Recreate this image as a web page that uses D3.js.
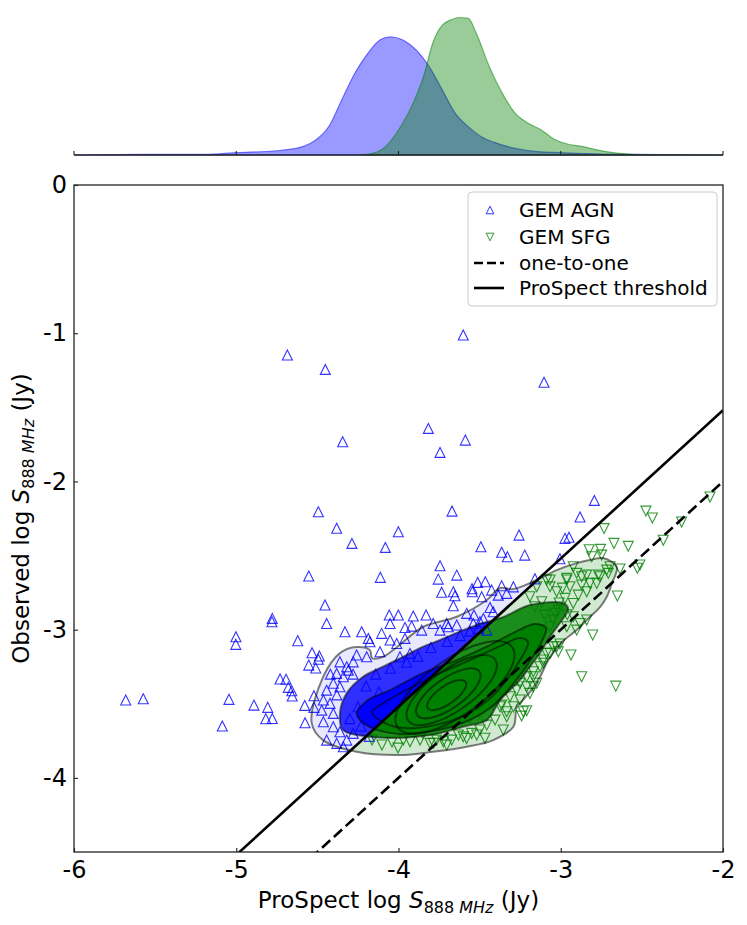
<!DOCTYPE html>
<html>
<head>
<meta charset="utf-8">
<script src="https://cdn.jsdelivr.net/npm/d3@7"></script>
<style>
  body { margin: 0; background: #fff; }
  svg { display: block; }
  text { font-family: "DejaVu Sans", sans-serif; fill: #000; }
</style>
</head>
<body>
<svg id="chart" width="747" height="925"></svg>
<script>
// ---- data ----
const xTicks = [-6, -5, -4, -3, -2];
const yTicks = [0, -1, -2, -3, -4];
const thresholdOffset = 0.48; // ProSpect threshold: observed = prospect + 0.48

// marginal densities (normalised so the SFG peak = 1)
const agnKdeX = [-6, -5.55, -5.2, -5.0, -4.75, -4.59, -4.51, -4.43, -4.35, -4.27, -4.19, -4.11, -4.05, -3.97, -3.89, -3.81, -3.73, -3.65, -3.57, -3.49, -3.41, -3.28, -3.14, -3.0, -2.74, -2.0];
const agnKde = [0, 0.005, 0.005, 0.017, 0.031, 0.061, 0.109, 0.206, 0.400, 0.593, 0.738, 0.840, 0.860, 0.835, 0.763, 0.642, 0.472, 0.303, 0.206, 0.133, 0.092, 0.048, 0.024, 0.017, 0.007, 0];
const sfgKdeX = [-4.24, -4.16, -4.08, -4.0, -3.92, -3.84, -3.79, -3.73, -3.68, -3.63, -3.57, -3.52, -3.44, -3.36, -3.28, -3.2, -3.12, -3.04, -2.96, -2.88, -2.77, -2.64, -2.47, -2.0];
const sfgKde = [0, 0.012, 0.061, 0.182, 0.351, 0.593, 0.811, 0.944, 0.981, 1.0, 0.993, 0.884, 0.642, 0.448, 0.303, 0.230, 0.182, 0.114, 0.080, 0.065, 0.036, 0.012, 0.002, 0];

// GEM AGN (prospect, observed)
const agnPoints = [
  [-5.681,-3.475],[-5.573,-3.466],[-4.685,-1.147],[-4.451,-1.244],[-3.601,-1.012],[-3.103,-1.331],
  [-4.344,-1.732],[-3.816,-1.642],[-3.588,-1.721],[-3.744,-1.804],[-4.494,-2.204],[-4.381,-2.316],
  [-4.001,-2.339],[-4.287,-2.418],[-4.081,-2.445],[-4.553,-2.638],[-4.112,-2.647],[-4.453,-2.834],
  [-4.057,-2.901],[-4.001,-2.901],[-4.778,-2.924],[-2.793,-2.128],[-3.670,-2.200],[-2.881,-2.240],
  [-3.257,-2.362],[-2.974,-2.384],[-2.949,-2.377],[-3.492,-2.441],[-3.364,-2.478],[-3.329,-2.508],
  [-3.222,-2.497],[-3.005,-2.522],[-3.744,-2.569],[-3.641,-2.632],[-3.755,-2.659],[-3.159,-2.657],
  [-3.512,-2.681],[-3.465,-2.677],[-3.734,-2.748],[-3.547,-2.724],[-3.662,-2.744],[-3.652,-2.771],
  [-3.292,-2.711],[-3.364,-2.704],[-3.333,-2.755],[-3.662,-2.839],[-3.436,-2.850],[-3.909,-2.908],
  [-3.830,-2.901],[-3.580,-2.890],[-3.535,-2.901],[-5.045,-3.470],[-5.086,-3.650],[-4.891,-3.509],
  [-4.806,-3.524],[-4.818,-3.601],[-4.778,-3.599],[-5.002,-3.048],[-5.003,-3.099],[-4.780,-2.947],
  [-4.621,-3.075],[-4.533,-3.156],[-4.488,-3.178],[-4.494,-3.200],[-4.553,-3.239],[-4.510,-3.259],
  [-4.730,-3.333],[-4.693,-3.335],[-4.679,-3.389],[-4.658,-3.412],[-4.655,-3.448],[-4.578,-3.511],
  [-4.521,-3.524],[-4.521,-3.446],[-4.576,-3.628],[-4.443,-2.958],[-4.330,-3.014],[-4.227,-3.014],
  [-4.104,-3.025],[-4.186,-3.059],[-4.176,-3.082],[-3.919,-2.976],[-3.857,-3.003],[-3.786,-2.958],
  [-3.703,-2.958],[-3.641,-2.969],[-4.052,-3.070],[-4.011,-3.093],[-3.960,-3.059],[-4.114,-3.149],
  [-3.991,-3.183],[-3.929,-3.160],[-4.258,-3.171],[-4.196,-3.183],[-4.361,-3.217],[-4.319,-3.250],
  [-4.279,-3.217],[-4.381,-3.295],[-4.340,-3.318],[-4.309,-3.273],[-4.402,-3.362],[-4.361,-3.385],
  [-4.443,-3.408],[-4.463,-3.475],[-4.422,-3.497],[-4.473,-3.543],[-4.402,-3.565],[-4.463,-3.621],
  [-4.402,-3.655],[-4.361,-3.689],[-4.443,-3.745],[-4.381,-3.767],[-4.319,-3.745],[-4.279,-3.700],
  [-4.340,-3.790],[-4.052,-2.958],[-3.960,-2.985],[-3.744,-3.003],[-3.693,-2.980],[-3.498,-2.947],
  [-3.456,-3.003],[-3.545,-2.744],[-3.426,-2.733],[-3.385,-2.767],[-3.487,-2.778],[-3.416,-2.879],
  [-3.477,-2.924],[-3.539,-2.958],[-3.508,-2.991],[-4.420,-3.300],[-4.380,-3.440],[-4.300,-3.600],
  [-4.250,-3.520],[-4.200,-3.380],[-4.140,-3.300],[-4.050,-3.260],[-3.950,-3.220],[-3.880,-3.180],
  [-3.800,-3.120],[-3.700,-3.080],[-3.620,-3.040],[-3.560,-3.010],[-4.230,-3.650],[-4.180,-3.720],
  [-4.280,-3.300],[-4.120,-3.420]
];

// GEM SFG (prospect, observed)
const sfgPoints = [
  [-2.080,-2.105],[-2.475,-2.200],[-2.435,-2.247],[-2.255,-2.274],[-2.733,-2.318],[-2.368,-2.397],
  [-2.672,-2.418],[-2.584,-2.438],[-2.825,-2.461],[-2.755,-2.458],[-2.809,-2.508],[-2.748,-2.497],
  [-2.512,-2.564],[-2.528,-2.586],[-2.635,-2.591],[-2.923,-2.576],[-2.696,-2.576],[-2.871,-2.643],
  [-2.758,-2.643],[-2.707,-2.620],[-2.651,-2.773],[-2.778,-2.688],[-2.963,-2.665],[-3.066,-2.665],
  [-3.148,-2.711],[-2.803,-3.036],[-2.871,-3.318],[-2.661,-3.381],[-2.937,-3.171],[-3.005,-3.097],
  [-3.169,-3.385],[-3.231,-3.554],[-3.210,-3.547],[-3.241,-3.583],[-3.354,-3.677],[-3.467,-3.733],
  [-3.601,-3.723],[-3.518,-3.711],[-3.703,-3.779],[-3.785,-3.767],[-2.717,-2.598],[-2.769,-2.632],
  [-2.840,-2.632],[-2.902,-2.620],[-2.963,-2.654],[-2.943,-2.710],[-2.871,-2.699],[-2.820,-2.688],
  [-2.840,-2.744],[-2.892,-2.767],[-2.923,-2.823],[-2.974,-2.789],[-3.025,-2.744],[-3.066,-2.711],
  [-3.087,-2.665],[-3.117,-2.812],[-3.159,-2.845],[-3.190,-2.778],[-3.015,-2.868],[-3.046,-2.935],
  [-3.066,-2.980],[-3.035,-2.890],[-2.923,-2.913],[-2.881,-2.958],[-2.840,-2.935],[-2.902,-3.003],
  [-2.963,-2.980],[-3.025,-3.115],[-3.066,-3.160],[-3.107,-3.205],[-3.015,-3.149],[-3.128,-3.250],
  [-3.169,-3.318],[-3.210,-3.385],[-3.148,-3.362],[-3.190,-3.430],[-3.251,-3.475],[-3.292,-3.520],
  [-3.364,-3.509],[-3.333,-3.554],[-3.272,-3.408],[-3.313,-3.453],[-3.374,-3.520],[-3.333,-3.588],
  [-3.405,-3.610],[-3.456,-3.644],[-3.498,-3.677],[-3.549,-3.700],[-3.580,-3.734],[-3.631,-3.711],
  [-3.672,-3.745],[-3.724,-3.756],[-3.765,-3.745],[-3.806,-3.767],[-3.867,-3.745],[-3.929,-3.756],
  [-3.970,-3.745],[-3.148,-3.138],[-3.087,-3.160],[-3.046,-3.115],[-3.107,-3.227],[-3.169,-3.284],
  [-3.210,-3.318],[-3.251,-3.362],[-4.163,-3.745],[-4.102,-3.778],[-4.040,-3.758],[-4.003,-3.799],
  [-2.990,-2.720],[-3.010,-2.820],[-2.960,-2.900],[-3.100,-2.900],[-3.130,-3.000],[-3.180,-3.100],
  [-3.250,-3.200],[-3.300,-3.300],[-3.400,-3.420],[-3.500,-3.560],[-3.650,-3.640],[-3.850,-3.700],
  [-3.900,-3.660],[-3.560,-3.600],[-3.420,-3.500]
];

// density contours (outer ones as traced outlines)
const contourOuter = [
  [-4.535,-3.630],[-4.465,-3.320],[-4.361,-3.158],[-4.258,-3.117],[-4.176,-3.138],[-4.163,-3.192],
  [-4.096,-3.183],[-4.009,-3.117],[-3.849,-2.982],[-3.641,-2.913],[-3.456,-2.800],[-3.374,-2.719],
  [-3.294,-2.726],[-3.148,-2.665],[-3.025,-2.598],[-2.902,-2.551],[-2.820,-2.530],[-2.740,-2.517],
  [-2.655,-2.576],[-2.684,-2.686],[-2.717,-2.780],[-2.758,-2.848],[-2.840,-2.935],[-2.902,-3.003],
  [-2.986,-3.077],[-3.048,-3.158],[-3.087,-3.225],[-3.128,-3.320],[-3.171,-3.394],[-3.233,-3.475],
  [-3.271,-3.522],[-3.292,-3.655],[-3.416,-3.745],[-3.580,-3.790],[-3.787,-3.824],[-3.991,-3.846],
  [-4.258,-3.824],[-4.465,-3.745]
];
const contourMid = [
  [-4.361,-3.563],[-4.319,-3.428],[-4.219,-3.318],[-4.096,-3.250],[-3.972,-3.183],[-3.849,-3.115],
  [-3.744,-3.070],[-3.602,-3.003],[-3.479,-2.955],[-3.356,-2.915],[-3.190,-2.834],[-2.986,-2.820],
  [-2.955,-2.854],[-2.963,-2.888],[-3.005,-2.955],[-3.066,-3.048],[-3.128,-3.158],[-3.190,-3.250],
  [-3.251,-3.340],[-3.313,-3.408],[-3.374,-3.475],[-3.456,-3.610],[-3.602,-3.655],[-3.744,-3.698],
  [-3.888,-3.723],[-4.052,-3.731],[-4.176,-3.723],[-4.342,-3.677]
];
const contourInner = [
  [-4.258,-3.563],[-4.188,-3.475],[-4.052,-3.408],[-3.849,-3.293],[-3.641,-3.205],[-3.436,-3.104],
  [-3.282,-3.016],[-3.159,-2.962],[-3.091,-2.989],[-3.128,-3.104],[-3.220,-3.259],[-3.325,-3.408],
  [-3.436,-3.529],[-3.590,-3.623],[-3.787,-3.684],[-3.991,-3.704],[-4.145,-3.671],[-4.225,-3.623]
];
const contourCore = [
  [-4.163,-3.556],[-4.083,-3.489],[-3.929,-3.394],[-3.744,-3.293],[-3.559,-3.205],[-3.374,-3.111],
  [-3.251,-3.057],[-3.202,-3.084],[-3.251,-3.205],[-3.344,-3.354],[-3.448,-3.475],[-3.590,-3.576],
  [-3.775,-3.644],[-3.960,-3.664],[-4.083,-3.630]
];
// innermost levels: [centre x, centre y, semi-major, semi-minor] in x units, tilted 35 deg
const contourPeaks = [
  [-3.652, -3.389, 0.431, 0.173],
  [-3.672, -3.408, 0.327, 0.129],
  [-3.693, -3.430, 0.234, 0.092],
  [-3.703, -3.441, 0.142, 0.055]
];
const peakTilt = 35;

// ---- layout ----
const svg = d3.select("#chart");
const x = d3.scaleLinear().domain([-6, -2]).range([74, 723]);
const y = d3.scaleLinear().domain([-4.5, 0]).range([852, 185]);
const yTop = d3.scaleLinear().domain([0, 1]).range([155, 17.5]);

const defs = svg.append("defs");
defs.append("clipPath").attr("id", "plot")
  .append("rect").attr("x", x(-6)).attr("y", y(0))
  .attr("width", x(-2) - x(-6)).attr("height", y(-4.5) - y(0));
const above = [[-6, -6 + thresholdOffset], [-2, -2 + thresholdOffset], [-2, 0], [-6, 0]];
const below = [[-6, -6 + thresholdOffset], [-2, -2 + thresholdOffset], [-2, -6], [-6, -6]];
defs.append("clipPath").attr("id", "above").append("polygon")
  .attr("points", above.map(d => [x(d[0]), y(d[1])].join(",")).join(" "));
defs.append("clipPath").attr("id", "below").append("polygon")
  .attr("points", below.map(d => [x(d[0]), y(d[1])].join(",")).join(" "));

// ---- top marginal panel ----
const area = d3.area().curve(d3.curveMonotoneX)
  .x(d => x(d[0])).y0(yTop(0)).y1(d => yTop(d[1]));
const topG = svg.append("g");
topG.append("path").datum(d3.zip(agnKdeX, agnKde)).attr("d", area)
  .attr("fill", "blue").attr("fill-opacity", 0.4)
  .attr("stroke", "blue").attr("stroke-opacity", 0.5).attr("stroke-width", 1.2);
topG.append("path").datum(d3.zip(sfgKdeX, sfgKde)).attr("d", area)
  .attr("fill", "green").attr("fill-opacity", 0.4)
  .attr("stroke", "green").attr("stroke-opacity", 0.5).attr("stroke-width", 1.2);
topG.append("line").attr("x1", x(-6)).attr("x2", x(-2))
  .attr("y1", yTop(0)).attr("y2", yTop(0))
  .attr("stroke", "#222").attr("stroke-width", 1.3);
topG.selectAll(".ttick").data(xTicks).join("line")
  .attr("x1", d => x(d)).attr("x2", d => x(d))
  .attr("y1", yTop(0)).attr("y2", yTop(0) - 4)
  .attr("stroke", "#222").attr("stroke-width", 1.1);

// ---- main panel ----
const plot = svg.append("g").attr("clip-path", "url(#plot)");
const contourPath = d3.line().curve(d3.curveCatmullRomClosed.alpha(0.5))
  .x(d => x(d[0])).y(d => y(d[1]));

// dense regions, where the markers overlap into solid colour
[["above", "blue", 0.09, 0.8], ["below", "green", 0.18, 0.88]].forEach(([clip, col, o1, o2]) => {
  const g = plot.append("g").attr("clip-path", `url(#${clip})`);
  g.append("path").attr("d", contourPath(contourOuter)).attr("fill", col).attr("fill-opacity", o1);
  g.append("path").attr("d", contourPath(contourMid)).attr("fill", col).attr("fill-opacity", o2);
  g.append("path").attr("d", contourPath(contourInner)).attr("fill", col);
});

const up = "M0,-5L5,5L-5,5Z";
const down = "M0,5L5,-5L-5,-5Z";
plot.append("g").selectAll("path").data(agnPoints).join("path")
  .attr("d", up)
  .attr("transform", d => `translate(${x(d[0])},${y(d[1])})`)
  .attr("fill", "none").attr("stroke", "blue").attr("stroke-opacity", 0.8).attr("stroke-width", 1.1);
plot.append("g").selectAll("path").data(sfgPoints).join("path")
  .attr("d", down)
  .attr("transform", d => `translate(${x(d[0])},${y(d[1])})`)
  .attr("fill", "none").attr("stroke", "green").attr("stroke-opacity", 0.8).attr("stroke-width", 1.1);

// contour lines
const cg = plot.append("g").attr("fill", "none").attr("stroke", "#000")
  .attr("stroke-opacity", 0.5).attr("stroke-width", 2);
[contourOuter, contourMid, contourInner, contourCore].forEach(c =>
  cg.append("path").attr("d", contourPath(c)));
const ux = x(-5) - x(-6);
cg.selectAll("ellipse").data(contourPeaks).join("ellipse")
  .attr("rx", d => d[2] * ux).attr("ry", d => d[3] * ux)
  .attr("transform", d => `translate(${x(d[0])},${y(d[1])}) rotate(${-peakTilt})`);

// reference lines
const line = d3.line().x(d => x(d[0])).y(d => y(d[1]));
plot.append("path").attr("d", line([[-6, -6 + thresholdOffset], [-2, -2 + thresholdOffset]]))
  .attr("stroke", "#000").attr("stroke-width", 2.6).attr("fill", "none");
plot.append("path").attr("d", line([[-6, -6], [-2, -2]]))
  .attr("stroke", "#000").attr("stroke-width", 2.6).attr("fill", "none")
  .attr("stroke-dasharray", "11,5");

// frame
svg.append("rect").attr("x", x(-6)).attr("y", y(0))
  .attr("width", x(-2) - x(-6)).attr("height", y(-4.5) - y(0))
  .attr("fill", "none").attr("stroke", "#222").attr("stroke-width", 1.3);

// axes
const xAxis = svg.append("g").attr("transform", `translate(0,${y(-4.5)})`)
  .call(d3.axisBottom(x).tickValues(xTicks).tickFormat(d => d.toString())
    .tickSizeInner(-4).tickSizeOuter(0).tickPadding(9));
const yAxis = svg.append("g").attr("transform", `translate(${x(-6)},0)`)
  .call(d3.axisLeft(y).tickValues(yTicks).tickFormat(d => d.toString())
    .tickSizeInner(-4).tickSizeOuter(0).tickPadding(7));
[xAxis, yAxis].forEach(a => {
  a.select(".domain").remove();
  a.selectAll("line").attr("stroke", "#222").attr("stroke-width", 1.1);
  a.selectAll("text").attr("font-family", "DejaVu Sans").attr("font-size", 24).attr("fill", "#000");
});

// axis titles with S_{888 MHz}
function label(sel, prefix) {
  sel.append("tspan").text(prefix);
  sel.append("tspan").attr("font-style", "italic").text("S");
  sel.append("tspan").attr("font-size", 16).attr("dy", 5).text("888 ");
  sel.append("tspan").attr("font-size", 16).attr("font-style", "italic").text("MHz");
  sel.append("tspan").attr("dy", -5).text(" (Jy)");
}
svg.append("text").attr("x", (x(-6) + x(-2)) / 2).attr("y", 908)
  .attr("text-anchor", "middle").attr("font-size", 23)
  .call(label, "ProSpect log ");
svg.append("text").attr("transform", `translate(29,${(y(0) + y(-4.5)) / 2}) rotate(-90)`)
  .attr("text-anchor", "middle").attr("font-size", 23)
  .call(label, "Observed log ");

// legend
const lg = svg.append("g").attr("transform", "translate(468,192)");
lg.append("rect").attr("width", 249).attr("height", 114).attr("rx", 4)
  .attr("fill", "#fff").attr("fill-opacity", 0.8).attr("stroke", "#ccc");
const items = [
  { name: "GEM AGN", kind: "up" },
  { name: "GEM SFG", kind: "down" },
  { name: "one-to-one", kind: "dash" },
  { name: "ProSpect threshold", kind: "solid" }
];
const rowY = [18, 45, 71, 96];
items.forEach((it, i) => {
  const g = lg.append("g").attr("transform", `translate(0,${rowY[i]})`);
  if (it.kind === "up" || it.kind === "down") {
    g.append("path").attr("d", it.kind === "up" ? "M0,-3.8L3.8,3.8L-3.8,3.8Z" : "M0,3.8L3.8,-3.8L-3.8,-3.8Z")
      .attr("transform", "translate(22,0)").attr("fill", "none")
      .attr("stroke", it.kind === "up" ? "blue" : "green").attr("stroke-opacity", 0.8);
  } else {
    g.append("line").attr("x1", 6).attr("x2", 36).attr("stroke", "#000").attr("stroke-width", 2.6)
      .attr("stroke-dasharray", it.kind === "dash" ? "9,4" : null);
  }
  g.append("text").attr("x", 51).attr("dy", "0.35em").attr("font-size", 20).text(it.name);
});
</script>
</body>
</html>
